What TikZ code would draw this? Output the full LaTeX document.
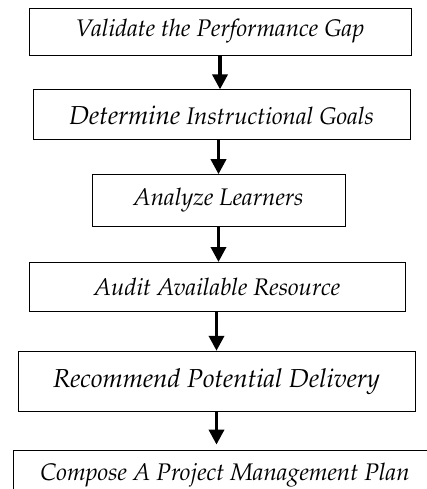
\documentclass[tikz,border=0pt]{standalone}
\usepackage[T1]{fontenc}
\usepackage{mathpazo}
\usetikzlibrary{positioning,arrows.meta}

\begin{document}
\begin{tikzpicture}[x=1pt,y=1pt,node distance=34pt]
\tikzset{>={Triangle[width=15pt,length=15pt]}}

\tikzstyle{block} = [rectangle, draw, line width=0.8pt, text centered,
                     inner sep=0pt, font=\fontsize{24}{28}\selectfont\itshape]
\tikzstyle{flow}  = [->, line width=3.5pt]

\useasboundingbox (0,0) rectangle (427,-489);
\clip (0,0) rectangle (427,-489);

\node[block,minimum width=382pt,minimum height=47pt] (VG) at (220,-31.5)
     {Validate the Performance Gap};
\node[block,minimum width=377pt,minimum height=50pt,below=34pt of VG,xshift=1.5pt] (DG)
     {{\fontsize{26}{28}\selectfont Determine} Instructional Goals};
\node[block,minimum width=253pt,minimum height=52pt,below=34pt of DG,xshift=-3pt] (AL)
     {Analyze Learners};
\node[block,minimum width=376pt,minimum height=49pt,below=35pt of AL,xshift=-1.5pt] (AR)
     {Audit Available Resource};
\node[block,minimum width=397pt,minimum height=60pt,below=39pt of AR,xshift=-0.5pt,
      font=\fontsize{26}{30}\selectfont\itshape] (RD)
     {Recommend Potential Delivery};
\node[block,minimum width=424pt,minimum height=50pt,below=38pt of RD,xshift=8.5pt] (PM)
     {Compose A Project Management Plan};

\draw[flow] (VG.south) -- (VG.south |- DG.north);
\draw[flow] (DG.south -| AL.north) -- (AL.north);
\draw[flow] (AL.south) -- (AL.south |- AR.north);
\draw[flow] (AR.south -| RD.north) -- (RD.north);
\draw[flow,shorten >=5pt] (RD.south) -- (RD.south |- PM.north);

\end{tikzpicture}
\end{document}
